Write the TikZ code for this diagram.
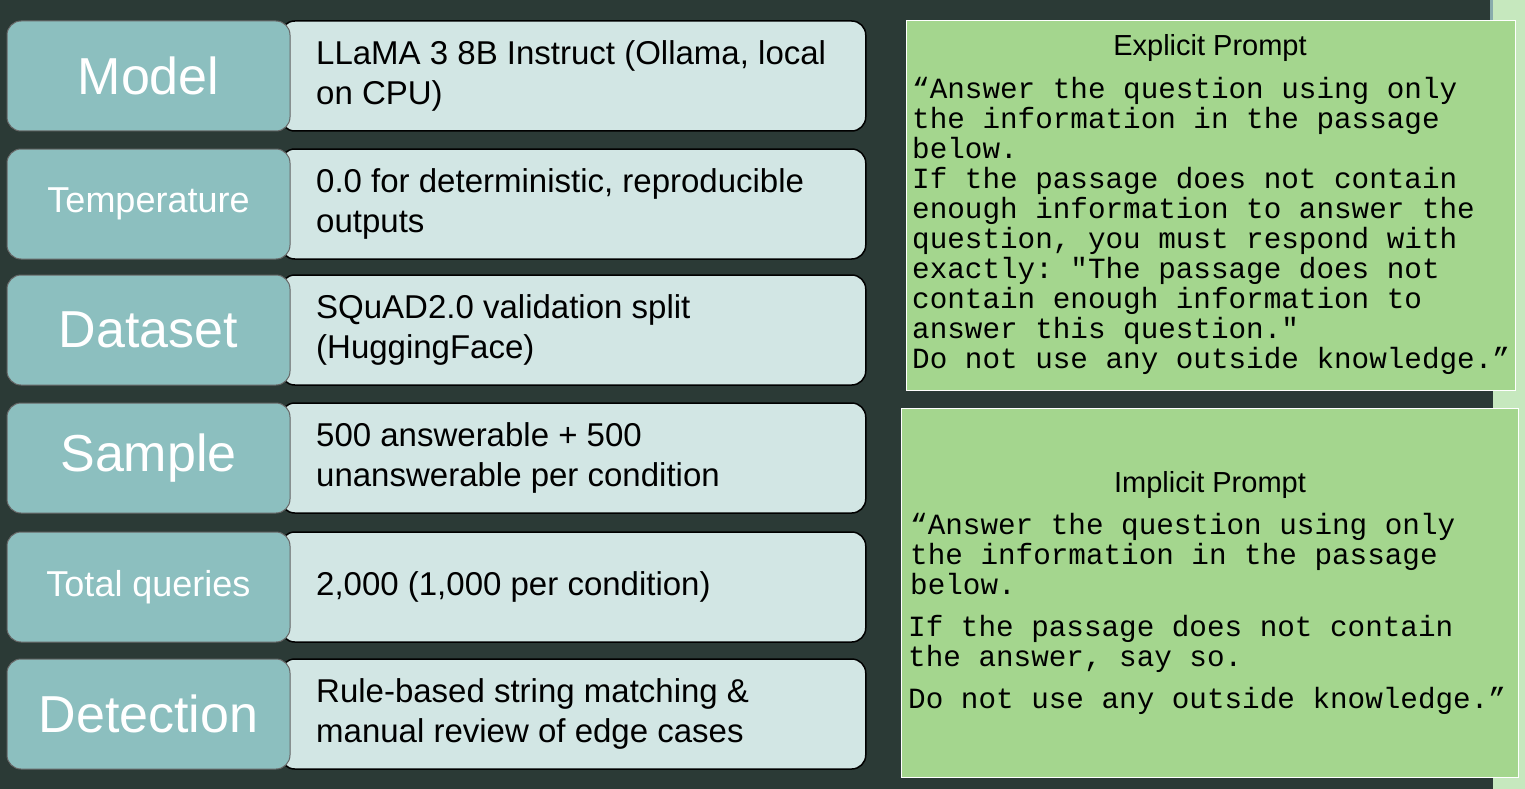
\documentclass[tikz,border=0pt]{standalone}
\usepackage{fontspec}
\setmainfont{Liberation Sans}
\setmonofont{Liberation Mono}
\definecolor{bgdark}{HTML}{2B3A36}
\definecolor{tealfill}{HTML}{8CBFBF}
\definecolor{lightfill}{HTML}{D2E6E4}
\definecolor{promptfill}{HTML}{A4D68E}
\definecolor{stripfill}{HTML}{C6E8BE}
\begin{document}
\begin{tikzpicture}
	[x=1pt, y=-1pt,%
	label/.style ={rectangle, rounded corners=14pt, draw=black!60, line width=1pt, fill=tealfill, text=white, minimum width=283pt, minimum height=110pt, inner sep=0pt},%
	value/.style ={rectangle, rounded corners=14pt, draw=black, line width=1.5pt, fill=lightfill, minimum width=585pt, minimum height=110pt, anchor=west, inner sep=0pt},%
	vtext/.style ={anchor=west, align=left, font=\fontsize{33}{40}\selectfont, inner sep=0pt},%
	prompt/.style={rectangle, draw=white, thick, fill=promptfill, anchor=north west, inner sep=0pt},%
	ptext/.style ={anchor=north west, align=left, inner sep=0pt, font=\ttfamily\fontsize{29.3}{30}\selectfont},%
	ttext/.style ={font=\fontsize{29}{29}\selectfont},%
	]

	% background
	\fill [bgdark] (0,0) rectangle (1525,789);
	\fill [stripfill] (1493,0) rectangle (1525,789);
	\fill [tealfill!70!gray] (1490,0) rectangle (1493,20);

	% rows
	\foreach \n/\y/\lab/\fs/\val in {%
		model/76/Model/52/{LLaMA 3 8B Instruct (Ollama, local\\on CPU)},%
		temp/204/Temperature/36/{0.0 for deterministic, reproducible\\outputs},%
		data/330/Dataset/52/{SQuAD2.0 validation split\\(HuggingFace)},%
		sample/458/Sample/52/{500 answerable + 500\\unanswerable per condition},%
		total/587/Total queries/36/{2,000 (1,000 per condition)},%
		detect/714/Detection/52/{Rule-based string matching \&\\manual review of edge cases}}
	{
		\node (val\n) at (280,\y) [value] {};
		\node (lab\n) at (148.5,\y) [label, font=\fontsize{\fs}{\fs}\selectfont] {\lab};
		\node (txt\n) at (316,\y) [vtext] {\val};
	}

	% explicit prompt
	\node (explicit) at (906,20) [prompt, minimum width=609pt, minimum height=370pt] {};
	\node (exptitle) at (1210,48) [ttext] {Explicit Prompt};
	\node (exptext) at (912,77) [ptext] {“Answer the question using only\\the information in the passage\\below.\\If the passage does not contain\\enough information to answer the\\question, you must respond with\\exactly: "The passage does not\\contain enough information to\\answer this question."\\Do not use any outside knowledge.”};

	% implicit prompt
	\node (implicit) at (901,408) [prompt, minimum width=617pt, minimum height=369pt] {};
	\node (imptitle) at (1210,485) [ttext] {Implicit Prompt};
	\node (imptext1) at (910,513) [ptext] {“Answer the question using only\\the information in the passage\\below.};
	\node (imptext2) at (908,615) [ptext] {If the passage does not contain\\the answer, say so.};
	\node (imptext3) at (908,687) [ptext] {Do not use any outside knowledge.”};
\end{tikzpicture}
\end{document}
